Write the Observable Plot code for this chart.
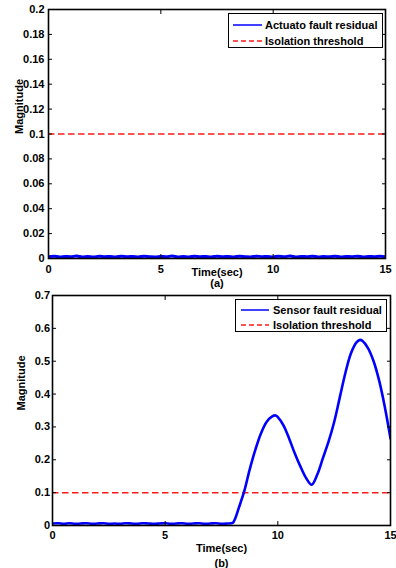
<!DOCTYPE html>
<html>
<head>
<meta charset="utf-8">
<script src="https://cdn.jsdelivr.net/npm/d3@7"></script>
<script src="https://cdn.jsdelivr.net/npm/@observablehq/plot@0.6"></script>
<style>
  body { margin: 0; background: #fff; }
  #wrap { position: relative; width: 396px; height: 568px; font-family: "Liberation Sans", Arial, sans-serif; font-weight: bold; font-size: 11px; }
  svg { display: block; }
  .legend { position: absolute; background: #fff; border: 1.3px solid #000; box-sizing: border-box; }
  .legend .row { position: absolute; left: 0; height: 14px; line-height: 14px; display: flex; align-items: center; white-space: nowrap; }
</style>
</head>
<body>
<div id="wrap"></div>
<script>
// ---------- data ----------
const xTicks = [0, 5, 10, 15];
const yTicksA = [0, 0.02, 0.04, 0.06, 0.08, 0.1, 0.12, 0.14, 0.16, 0.18, 0.2];
const yTicksB = [0, 0.1, 0.2, 0.3, 0.4, 0.5, 0.6, 0.7];
const threshold = 0.1;

const actuatorTime = [0,0.25,0.5,0.75,1,1.25,1.5,1.75,2,2.25,2.5,2.75,3,3.25,3.5,3.75,4,4.25,4.5,4.75,5,5.25,5.5,5.75,6,6.25,6.5,6.75,7,7.25,7.5,7.75,8,8.25,8.5,8.75,9,9.25,9.5,9.75,10,10.25,10.5,10.75,11,11.25,11.5,11.75,12,12.25,12.5,12.75,13,13.25,13.5,13.75,14,14.25,14.5,14.75,15];
const actuatorResidual = [0.0015,0.0018,0.0013,0.0017,0.0014,0.0020,0.0013,0.0016,0.0012,0.0018,0.0015,0.0016,0.0013,0.0019,0.0014,0.0017,0.0013,0.0018,0.0015,0.0013,0.0017,0.0014,0.0020,0.0013,0.0016,0.0013,0.0018,0.0015,0.0016,0.0012,0.0019,0.0014,0.0017,0.0013,0.0018,0.0015,0.0013,0.0019,0.0015,0.0016,0.0013,0.0018,0.0014,0.0020,0.0013,0.0017,0.0015,0.0018,0.0013,0.0016,0.0014,0.0019,0.0013,0.0017,0.0015,0.0019,0.0013,0.0017,0.0015,0.0018,0.0014];

const sensorTime = [0,0.25,0.5,0.75,1,1.25,1.5,1.75,2,2.25,2.5,2.75,3,3.25,3.5,3.75,4,4.25,4.5,4.75,5,5.25,5.5,5.75,6,6.25,6.5,6.75,7,7.25,7.5,7.75,
  8,8.1,8.25,8.5,8.75,9,9.25,9.5,9.75,9.9,10,10.25,10.5,10.75,11,11.25,11.5,11.75,12,12.25,12.5,12.75,13,13.25,13.5,13.65,13.75,14,14.25,14.5,14.75,15];
const sensorResidual = [0.006,0.007,0.005,0.007,0.005,0.006,0.007,0.005,0.006,0.007,0.005,0.006,0.005,0.007,0.006,0.005,0.007,0.006,0.005,0.006,0.007,0.005,0.006,0.007,0.005,0.006,0.007,0.005,0.006,0.007,0.005,0.006,
  0.008,0.02,0.05,0.102,0.17,0.23,0.28,0.315,0.332,0.335,0.33,0.305,0.265,0.22,0.18,0.145,0.124,0.155,0.205,0.255,0.315,0.39,0.465,0.525,0.558,0.565,0.562,0.54,0.5,0.44,0.36,0.265];

const seriesNamesA = ["Actuato fault residual", "Isolation threshold"];
const seriesNamesB = ["Sensor fault residual", "Isolation threshold"];
const xLabel = "Time(sec)";
const yLabel = "Magnitude";
const panelLabels = ["(a)", "(b)"];

// ---------- styles ----------
const BLUE = "#0000ff", RED = "#ff1a1a";
const fontStyle = {fontFamily: "'Liberation Sans', Arial, sans-serif", fontSize: "11px", fontWeight: "bold", background: "white", color: "black", overflow: "visible"};
const fmt = d => String(+d.toFixed(2));

function panel({time, values, yDomain, yTicks, width, height, mt, mb, ml, mr, xPad, yPad, ylabDx, xlabDy, panDy, label, sw}) {
  return Plot.plot({
    width, height, marginTop: mt, marginBottom: mb, marginLeft: ml, marginRight: mr,
    style: fontStyle,
    x: {domain: [0, 15]},
    y: {domain: yDomain},
    marks: [
      Plot.ruleY([threshold], {stroke: RED, strokeWidth: 1.5, strokeDasharray: "6.5,3.5"}),
      Plot.line(time, {x: time, y: values, stroke: BLUE, strokeWidth: sw, curve: "catmull-rom", clip: true}),
      Plot.frame({stroke: "black", strokeWidth: 1.6}),
      Plot.axisX({anchor: "bottom", ticks: xTicks, tickSize: -4, tickPadding: xPad, tickFormat: fmt, label: null}),
      Plot.axisX({anchor: "top", ticks: xTicks, tickSize: -4, tickFormat: () => "", label: null}),
      Plot.axisY({anchor: "left", ticks: yTicks, tickSize: -4, tickPadding: yPad, tickFormat: fmt, label: null}),
      Plot.axisY({anchor: "right", ticks: yTicks, tickSize: -4, tickFormat: () => "", label: null}),
      Plot.text([yLabel], {text: d => d, frameAnchor: "left", rotate: -90, dx: ylabDx, lineAnchor: "middle"}),
      Plot.text([xLabel], {text: d => d, frameAnchor: "bottom", dy: xlabDy, lineAnchor: "middle"}),
      Plot.text([label], {text: d => d, frameAnchor: "bottom", dy: panDy, lineAnchor: "middle"})
    ]
  });
}

function legend(parent, names, box) {
  const div = document.createElement("div");
  div.className = "legend";
  Object.assign(div.style, {left: box.left + "px", top: box.top + "px", width: box.w + "px", height: box.h + "px"});
  names.forEach((name, i) => {
    const row = document.createElement("div");
    row.className = "row";
    row.style.top = (box.rows[i] - 7) + "px";
    row.style.left = box.sx + "px";
    const dash = i === 1 ? "5,3" : null;
    const col = i === 1 ? RED : BLUE;
    row.innerHTML = `<svg width="${box.sw}" height="14" style="display:block"><line x1="0" x2="${box.sw}" y1="7" y2="7" stroke="${col}" stroke-width="1.5" ${dash ? `stroke-dasharray="${dash}"` : ""}/></svg><span style="margin-left:${box.gap}px">${name}</span>`;
    div.appendChild(row);
  });
  parent.appendChild(div);
}

const wrap = document.getElementById("wrap");

const pa = panel({time: actuatorTime, values: actuatorResidual, yDomain: [0, 0.2], yTicks: yTicksA, sw: 3,
  width: 396, height: 290, mt: 9, mb: 32, ml: 48, mr: 11, xPad: 11, yPad: 8, ylabDx: -29, xlabDy: 14, panDy: 25, label: panelLabels[0]});
const pb = panel({time: sensorTime, values: sensorResidual, yDomain: [0, 0.7], yTicks: yTicksB, sw: 2.6,
  width: 396, height: 278, mt: 5, mb: 43, ml: 52, mr: 6, xPad: 10, yPad: 6.5, ylabDx: -31, xlabDy: 23, panDy: 38, label: panelLabels[1]});
wrap.appendChild(pa);
wrap.appendChild(pb);

legend(wrap, seriesNamesA, {left: 228, top: 13, w: 155, h: 35, rows: [10.5, 26.5], sx: 4, sw: 29, gap: 3});
legend(wrap, seriesNamesB, {left: 235, top: 299, w: 152, h: 33, rows: [9.5, 24.5], sx: 5, sw: 28, gap: 4});
</script>
</body>
</html>
